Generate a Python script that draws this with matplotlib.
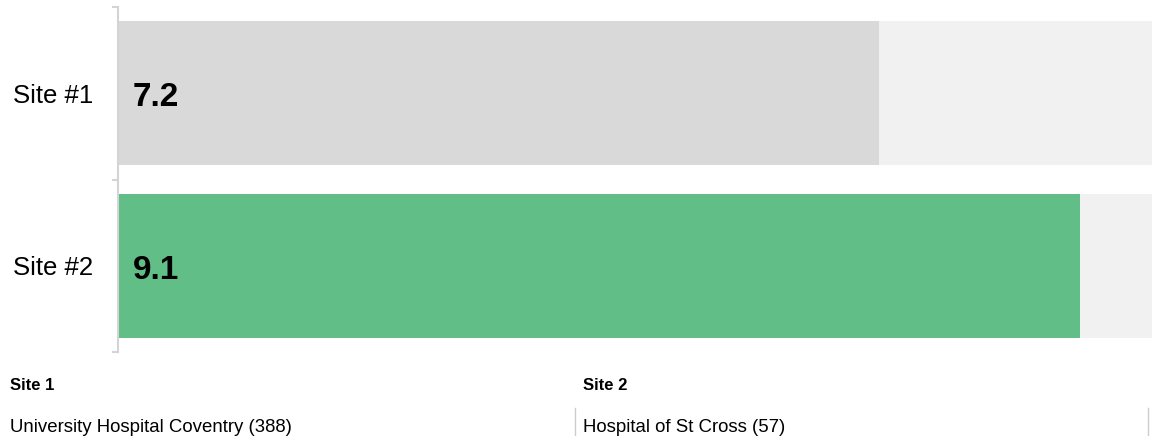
import matplotlib
matplotlib.use("Agg")
import matplotlib.pyplot as plt
from matplotlib.lines import Line2D

plt.rcParams["font.family"] = ["Liberation Sans", "DejaVu Sans"]

# Data
sites = ["Site #1", "Site #2"]
scores = [7.2, 9.1]
scale_max = 10
bar_colors = ["#d9d9d9", "#60be86"]
track_color = "#f1f1f1"

footer_titles = ["Site 1", "Site 2"]
footer_names = ["University Hospital Coventry (388)", "Hospital of St Cross (57)"]

W, H = 1152, 436
fig = plt.figure(figsize=(W / 100, H / 100), dpi=100)

ax_left, ax_right, ax_top, ax_bottom = 118, 1152, 7, 352
ax = fig.add_axes([ax_left / W, 1 - ax_bottom / H,
                   (ax_right - ax_left) / W, (ax_bottom - ax_top) / H])

ypos = list(range(len(sites)))
bar_h = 0.835
ax.barh(ypos, [scale_max] * len(sites), height=bar_h, color=track_color, zorder=1)
ax.barh(ypos, scores, height=bar_h, color=bar_colors, zorder=2)

for y, v in zip(ypos, scores):
    ax.annotate(f"{v:.1f}", xy=(0, y), xytext=(15, -13), textcoords="offset pixels",
                ha="left", va="baseline", fontsize=24, fontweight="bold",
                color="#000000", zorder=3)

px_per_unit = (879 - ax_left) / scores[0]
ax.set_xlim(0, (ax_right - ax_left) / px_per_unit)
ax.set_ylim(len(sites) - 0.5, -0.5)

for s in ["top", "right", "bottom"]:
    ax.spines[s].set_visible(False)
ax.spines["left"].set_color("#d4d4d4")
ax.spines["left"].set_linewidth(1.5)
ax.set_xticks([])

ax.set_yticks(ypos)
ax.set_yticklabels(sites, fontsize=18.5, color="#000000")
ax.tick_params(axis="y", which="major", length=0, pad=18)
ax.set_yticks([y - 0.5 for y in ypos] + [ypos[-1] + 0.5], minor=True)
ax.tick_params(axis="y", which="minor", length=4, width=1.5, color="#d4d4d4")

# Footer
col_x = [10, 583]
for x, t, n in zip(col_x, footer_titles, footer_names):
    fig.text(x / W, 1 - 390 / H, t, fontsize=12, fontweight="bold",
             ha="left", va="baseline", color="#000000")
    fig.text(x / W, 1 - 432 / H, n, fontsize=13.4, ha="left", va="baseline",
             color="#000000")

for x in [575, 1148]:
    fig.add_artist(Line2D([x / W, x / W], [0, 1 - 408 / H],
                          transform=fig.transFigure, color="#cccccc", lw=1))

fig.savefig("out.png", dpi=100)
